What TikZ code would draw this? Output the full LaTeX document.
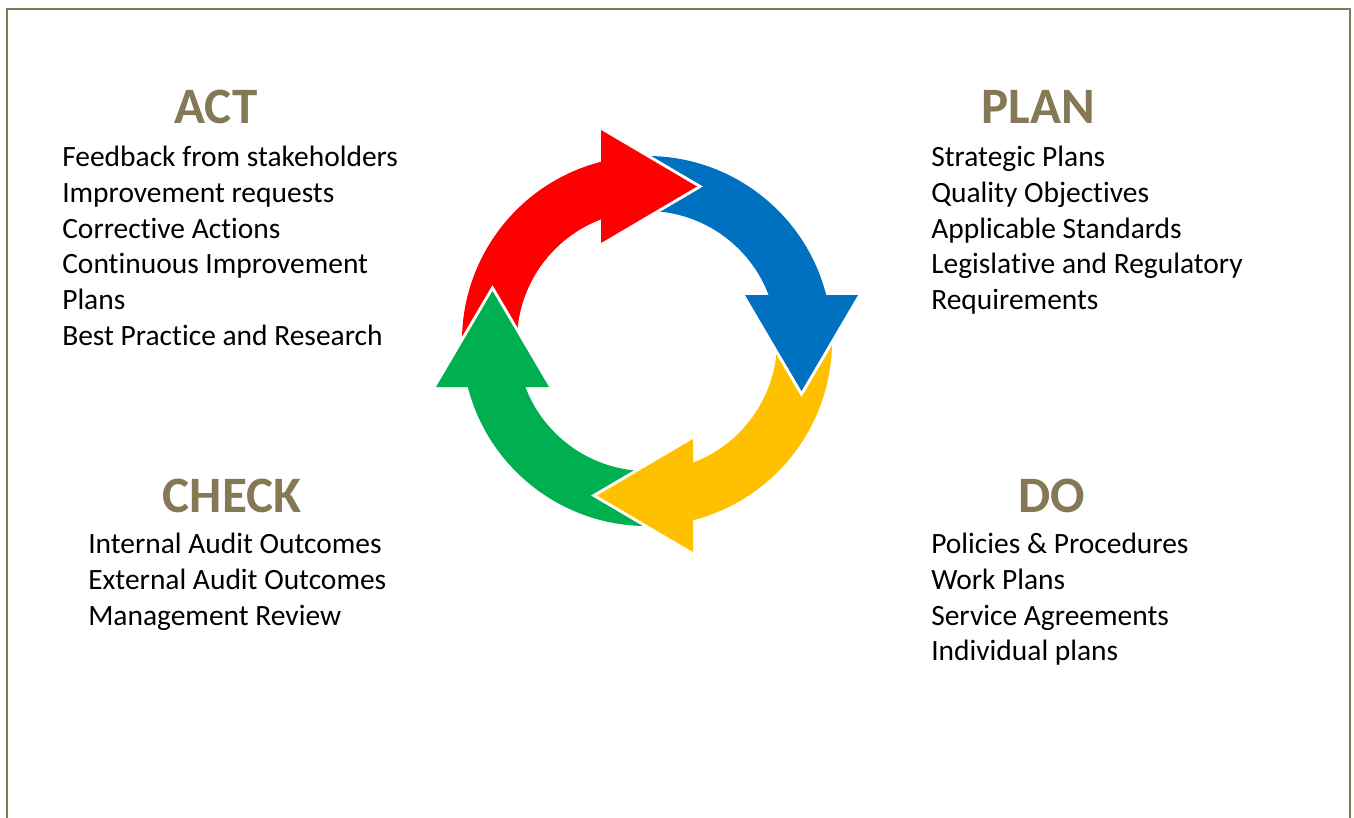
\documentclass[tikz,border=0pt]{standalone}
\usepackage{fontspec}
\setmainfont{Carlito}[Ligatures=NoCommon]
\usepackage{xcolor}
\definecolor{vtitle}{HTML}{847855}
\definecolor{vred}{HTML}{FF0000}
\definecolor{vblue}{HTML}{0070C0}
\definecolor{vyellow}{HTML}{FFC000}
\definecolor{vgreen}{HTML}{00B050}

\tikzset{
	heading/.style={font=\fontsize{38.3}{46}\selectfont\bfseries, text=vtitle, anchor=base, inner sep=0pt},
	item/.style={font=\fontsize{22.1}{26}\selectfont, anchor=base west, inner sep=0pt},
}

\begin{document}
\begin{tikzpicture}[x=0.75pt,y=0.75pt]
		\useasboundingbox (0,0) rectangle (1354,-818);
		\draw[color=vtitle, line width=1.5pt] (7,-818) -- (7,-9) -- (1350,-9) -- (1350,-818);

		% cycle arrows: bodies first, heads on top
		\begin{scope}[shift={(647,-341)}]
			\foreach \col/\rot in {vred/0, vblue/-90, vyellow/-180, vgreen/90}
				\fill[color=\col, rotate=\rot] (185:185) arc (185:100:185) -- (100:130) arc (100:185:130) -- cycle;
			\foreach \col/\rot in {vred/0, vblue/-90, vyellow/-180, vgreen/90} {
				\draw[color=white, line width=4.5pt, rotate=\rot] (-46,211) -- (50,154.5) -- (-46,98);
				\fill[color=\col, rotate=\rot] (-46,98) -- (-46,211) -- (50,154.5) -- cycle;
			}
		\end{scope}

		\node[heading] (act) at (216,-123) {ACT};
		\node[heading] (plan) at (1038,-123) {PLAN};
		\node[heading] (check) at (232,-512) {CHECK};
		\node[heading] (do) at (1052,-512) {DO};

		\foreach \t [count=\i from 0] in {Feedback from stakeholders, Improvement requests, Corrective Actions, Continuous Improvement, Plans, Best Practice and Research}
			\node[item] (act\i) at (62,-166.5-35.8*\i) {\t};
		\foreach \t [count=\i from 0] in {Strategic Plans, Quality Objectives, Applicable Standards, Legislative and Regulatory, Requirements}
			\node[item] (plan\i) at (931,-166.5-35.8*\i) {\t};
		\foreach \t [count=\i from 0] in {Internal Audit Outcomes, External Audit Outcomes, Management Review}
			\node[item] (check\i) at (88,-553.5-35.8*\i) {\t};
		\foreach \t [count=\i from 0] in {Policies \& Procedures, Work Plans, Service Agreements, Individual plans}
			\node[item] (do\i) at (931,-553.5-35.8*\i) {\t};
	\end{tikzpicture}
\end{document}
